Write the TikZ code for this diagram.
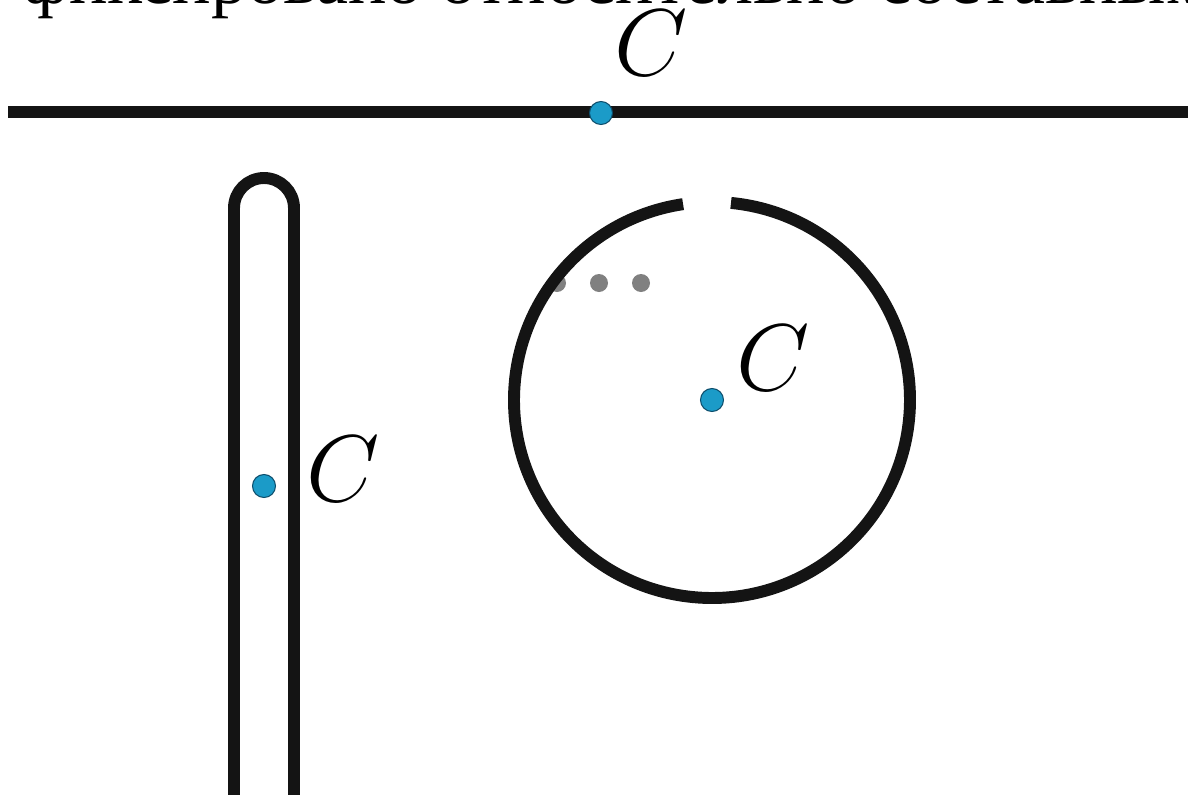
\RequirePackage{fix-cm}
\documentclass[tikz,border=0pt]{standalone}
\usepackage{fontspec}
\setmainfont{Liberation Serif}
\usetikzlibrary{positioning}
\definecolor{ptfill}{HTML}{1B9BC8}
\definecolor{ptstr}{HTML}{0C4D6B}
\definecolor{dotgray}{HTML}{808080}
\tikzset{
  body/.style   ={line width=6.8pt, draw=black!92},
  cpt/.style    ={circle, fill=ptfill, draw=ptstr, line width=0.6pt,
                  minimum size=0.46cm, inner sep=0pt},
  ellip/.style  ={circle, fill=dotgray, minimum size=0.36cm, inner sep=0pt},
  clab/.style   ={font=\fontsize{54}{60}\selectfont, inner sep=0pt},
}

\begin{document}
\begin{tikzpicture}[x=0.02cm, y=-0.02cm]
    \useasboundingbox (0,0) rectangle (1188,795);
    \clip (0,0) rectangle (1188,795);
    % heading, cut by the top edge
    \node[anchor=base west, inner sep=0pt, font=\fontsize{41}{48}\selectfont] (head) at (22,3)
      {фиксировано относительно составным};
    % straight rod
    \draw[body] (8,112) -- (1200,112);
    \node[cpt] (linec) at (601,113) {};
    \node[clab] (linelab) at (651,43) {$C$};
    % bent rod
    \draw[body] (234,820) -- (234,208) arc[start angle=180, end angle=360, radius=30] -- (294,820);
    \node[cpt] (rodc) at (264,486) {};
    \node[clab] (rodlab) at (343,469) {$C$};
    % ring with a gap
    \node[ellip] (e1) at (557,283) {};
    \node[ellip] (e2) at (599,283) {};
    \node[ellip] (e3) at (641,283) {};
    \coordinate (ringo) at (712,400);
    \draw[body] (ringo) ++(275.5:198) arc[start angle=275.5, end angle=621.6, radius=198];
    \node[cpt] (ringc) at (ringo) {};
    \node[clab] (ringlab) at (773,358) {$C$};
\end{tikzpicture}
\end{document}
